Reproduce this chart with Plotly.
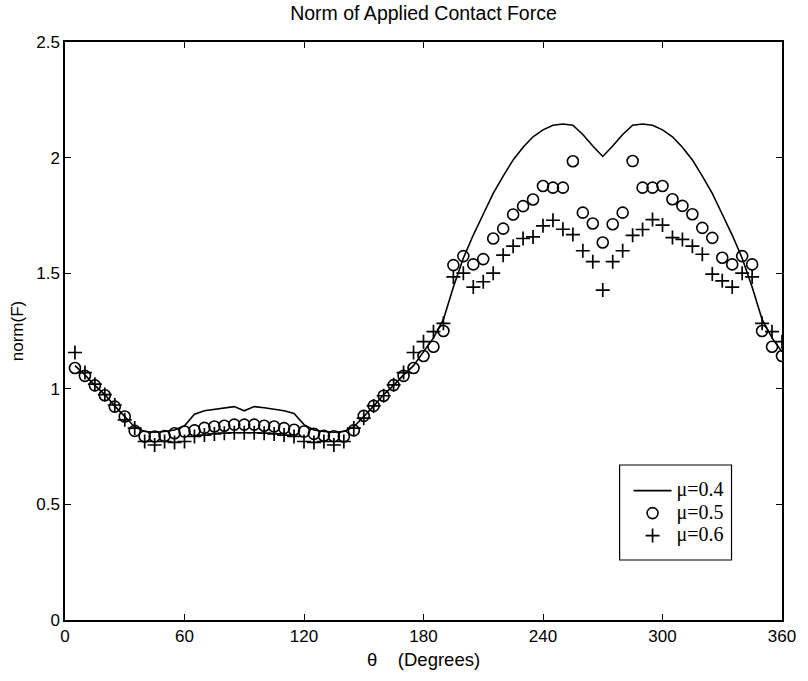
import plotly.graph_objects as go

# Contact angle theta in degrees
theta = list(range(5, 365, 5))

# norm(F) for friction coefficient mu = 0.4 (solid line)
norm_mu04 = [
    1.10, 1.06, 1.015, 0.975, 0.925, 0.88, 0.835, 0.815, 0.812, 0.815,
    0.822, 0.84, 0.89, 0.905, 0.912, 0.918, 0.923, 0.905, 0.923, 0.918,
    0.912, 0.905, 0.893, 0.845, 0.822, 0.815, 0.812, 0.815, 0.835, 0.88,
    0.925, 0.975, 1.015, 1.06, 1.10, 1.16, 1.22, 1.30, 1.44, 1.565,
    1.665, 1.755, 1.845, 1.92, 1.99, 2.045, 2.09, 2.12, 2.14, 2.145,
    2.14, 2.10, 2.05, 2.005, 2.05, 2.10, 2.14, 2.145, 2.14, 2.12,
    2.09, 2.045, 1.99, 1.92, 1.845, 1.755, 1.665, 1.565, 1.44, 1.30,
    1.22, 1.16,
]

# norm(F) for mu = 0.5 (open circles)
norm_mu05 = [
    1.09, 1.056, 1.015, 0.972, 0.923, 0.88, 0.818, 0.794, 0.794, 0.796,
    0.808, 0.815, 0.82, 0.831, 0.837, 0.84, 0.845, 0.845, 0.845, 0.84,
    0.837, 0.83, 0.823, 0.815, 0.805, 0.797, 0.795, 0.794, 0.82, 0.883,
    0.926, 0.97, 1.016, 1.056, 1.09, 1.142, 1.182, 1.25, 1.535, 1.574,
    1.538, 1.561, 1.65, 1.693, 1.754, 1.79, 1.819, 1.877, 1.87, 1.87,
    1.984, 1.762, 1.715, 1.633, 1.712, 1.762, 1.985, 1.87, 1.87, 1.877,
    1.82, 1.791, 1.755, 1.696, 1.653, 1.567, 1.538, 1.574, 1.538, 1.25,
    1.182, 1.142,
]

# norm(F) for mu = 0.6 (plus markers)
norm_mu06 = [
    1.157, 1.07, 1.02, 0.975, 0.93, 0.866, 0.83, 0.772, 0.757, 0.772,
    0.768, 0.772, 0.794, 0.80, 0.805, 0.808, 0.81, 0.81, 0.81, 0.808,
    0.805, 0.80, 0.794, 0.772, 0.768, 0.772, 0.757, 0.772, 0.83, 0.873,
    0.926, 0.97, 1.017, 1.07, 1.157, 1.204, 1.247, 1.283, 1.484, 1.50,
    1.44, 1.463, 1.50, 1.578, 1.617, 1.65, 1.657, 1.705, 1.729, 1.69,
    1.667, 1.597, 1.55, 1.427, 1.55, 1.597, 1.664, 1.689, 1.732, 1.708,
    1.654, 1.646, 1.617, 1.582, 1.496, 1.467, 1.44, 1.50, 1.484, 1.283,
    1.247, 1.204,
]

series_names = ["\u03bc=0.4", "\u03bc=0.5", "\u03bc=0.6"]

x_ticks = [0, 60, 120, 180, 240, 300, 360]
y_ticks = [0, 0.5, 1, 1.5, 2, 2.5]

SANS = "Liberation Sans, Arial, Helvetica, sans-serif"
SERIF = "Liberation Serif, Times New Roman, serif"


def legend_label(text):
    # larger serif text while the legend row height follows legend.font.size
    return "<span style='font-size:20px'>" + text + "</span>"


fig = go.Figure()
fig.add_trace(go.Scatter(
    x=theta, y=norm_mu04, mode="lines", name=legend_label(series_names[0]),
    line=dict(color="black", width=1.6),
))
fig.add_trace(go.Scatter(
    x=theta, y=norm_mu05, mode="markers", name=legend_label(series_names[1]),
    marker=dict(symbol="circle-open", size=11, color="black",
                line=dict(width=1.6, color="black")),
))
fig.add_trace(go.Scatter(
    x=theta, y=norm_mu06, mode="markers", name=legend_label(series_names[2]),
    marker=dict(symbol="cross-thin-open", size=10, color="black",
                line=dict(width=1.7, color="black")),
))

axis_common = dict(
    showline=True, linecolor="black", linewidth=1.5, mirror="allticks",
    ticks="inside", ticklen=6, tickwidth=1, tickcolor="black",
    showgrid=False, zeroline=False,
    tickfont=dict(family=SANS, size=17, color="black"),
)

fig.update_layout(
    width=808, height=681,
    margin=dict(l=65, r=19, t=42, b=61),
    paper_bgcolor="white", plot_bgcolor="white",
    showlegend=True,
    title=dict(
        text="Norm of Applied Contact Force",
        font=dict(family=SANS, size=19.5, color="black"),
        x=0.5, xanchor="center", y=0.981, yanchor="middle",
        xref="paper", yref="container",
    ),
    xaxis=dict(range=[0, 360], tickvals=x_ticks, **axis_common),
    yaxis=dict(
        range=[0, 2.5], tickvals=y_ticks,
        title=dict(text="norm(F)", standoff=8,
                   font=dict(family=SANS, size=17, color="black")),
        **axis_common,
    ),
    annotations=[dict(
        text="\u03b8    (Degrees)", xref="paper", yref="paper",
        x=0.5, y=-0.0692, xanchor="center", yanchor="middle",
        showarrow=False, font=dict(family=SANS, size=18.5, color="black"),
    )],
    legend=dict(
        x=0.786, y=0.252, xanchor="left", yanchor="top",
        bgcolor="rgba(0,0,0,0)", borderwidth=0,
        font=dict(family=SERIF, size=15, color="black"),
        itemwidth=38, tracegroupgap=0,
    ),
    shapes=[dict(
        type="rect", xref="paper", yref="paper",
        x0=0.7735, x1=0.9296, y0=0.1038, y1=0.2682,
        line=dict(color="black", width=1.2), fillcolor="white", layer="below",
    )],
)

fig.write_html("out.html")
